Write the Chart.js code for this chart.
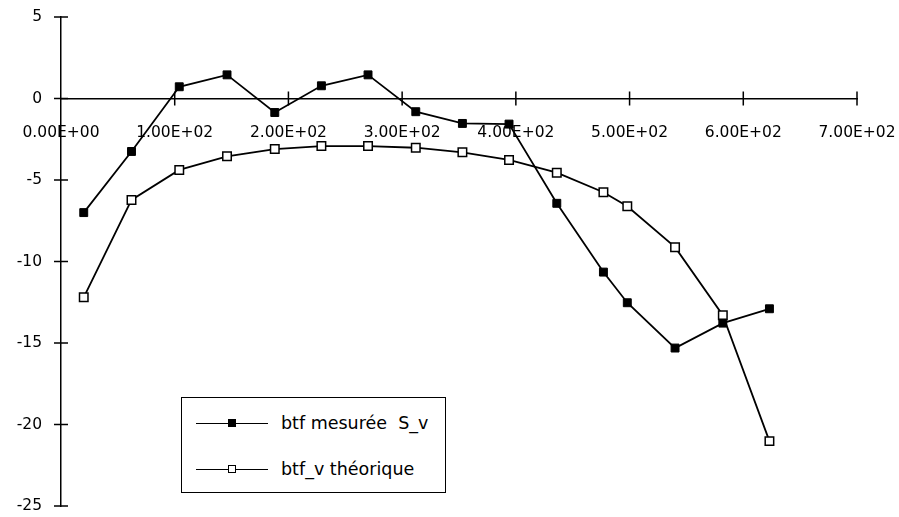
<!DOCTYPE html>
<html>
<head>
<meta charset="utf-8">
<script src="https://cdn.jsdelivr.net/npm/chart.js@4/dist/chart.umd.min.js"></script>
<style>
  html, body { margin: 0; padding: 0; background: #fff; }
  #wrap { position: relative; width: 899px; height: 517px; }
  #legend {
    position: absolute; left: 181px; top: 397px; width: 265px; height: 96px;
    border: 1.5px solid #000; box-sizing: border-box; background: #fff;
    font-family: "DejaVu Sans", sans-serif; font-size: 17.5px; color: #000;
  }
  .item { position: absolute; left: 14px; height: 20px; display: flex; align-items: center; white-space: pre; }
  .sym { position: relative; width: 72px; height: 20px; margin-right: 13px; }
  .sym .ln { position: absolute; left: 0; right: 0; top: 9.5px; border-top: 1px solid #000; }
  .sym .mk { position: absolute; left: 32px; top: 6px; width: 8px; height: 8px; box-sizing: border-box; border: 1.5px solid #000; }
</style>
</head>
<body>
<div id="wrap">
  <canvas id="c" width="899" height="517"></canvas>
  <div id="legend"></div>
</div>
<script>
const xValues = [20, 62, 104, 146, 188, 229, 270, 312, 353, 394, 436, 477, 498, 540, 582, 623];
const measured = [-7.0, -3.25, 0.72, 1.45, -0.86, 0.78, 1.45, -0.81, -1.53, -1.57, -6.43, -10.65, -12.53, -15.31, -13.78, -12.9];
const theoretical = [-12.2, -6.22, -4.38, -3.55, -3.1, -2.92, -2.92, -3.02, -3.3, -3.77, -4.55, -5.75, -6.61, -9.12, -13.3, -21.02];
const seriesNames = ['btf mesurée  S_v', 'btf_v théorique'];
const xTickLabels = ['0.00E+00', '1.00E+02', '2.00E+02', '3.00E+02', '4.00E+02', '5.00E+02', '6.00E+02', '7.00E+02'];
const yTickValues = [5, 0, -5, -10, -15, -20, -25];

const toPts = (ys) => xValues.map((x, i) => ({ x: x, y: ys[i] }));
const FONT = { family: '"DejaVu Sans", sans-serif', size: 15.5 };
const CLEAR = 'rgba(0,0,0,0)';

const crossTicks = {
  id: 'crossTicks',
  afterDraw(chart) {
    const { ctx, scales: { x, y } } = chart;
    const y0 = y.getPixelForValue(0);
    const x0 = x.getPixelForValue(0);
    ctx.save();
    ctx.strokeStyle = '#000';
    ctx.lineWidth = 1.5;
    ctx.beginPath();
    x.ticks.forEach(t => {
      if (t.value === 0) return;
      const px = x.getPixelForValue(t.value);
      ctx.moveTo(px, y0 - 7); ctx.lineTo(px, y0 + 7);
    });
    y.ticks.forEach(t => {
      const py = y.getPixelForValue(t.value);
      ctx.moveTo(x0 - 7, py); ctx.lineTo(x0 + 7, py);
    });
    ctx.stroke();
    ctx.restore();
  }
};

new Chart(document.getElementById('c'), {
  type: 'scatter',
  data: {
    datasets: [
      {
        label: seriesNames[0], data: toPts(measured), showLine: true,
        borderColor: '#000', borderWidth: 1.8, pointStyle: 'rect', pointRadius: 5.6,
        pointBackgroundColor: '#000', pointBorderColor: '#000', pointBorderWidth: 1
      },
      {
        label: seriesNames[1], data: toPts(theoretical), showLine: true,
        borderColor: '#000', borderWidth: 1.8, pointStyle: 'rect', pointRadius: 6,
        pointBackgroundColor: '#fff', pointBorderColor: '#000', pointBorderWidth: 1.5
      }
    ]
  },
  options: {
    responsive: false,
    animation: false,
    devicePixelRatio: 1,
    layout: { padding: { left: 0, right: 42, top: 17, bottom: 11 } },
    plugins: { legend: { display: false }, tooltip: { enabled: false } },
    scales: {
      x: {
        type: 'linear', min: 0, max: 700,
        position: { y: 0 },
        grid: { display: true, drawOnChartArea: false, drawTicks: true, tickLength: 25, color: CLEAR, tickColor: CLEAR },
        border: { display: true, color: '#000', width: 1.5 },
        ticks: {
          stepSize: 100, color: '#000', font: FONT, padding: 0, maxRotation: 0,
          callback: (v) => xTickLabels[Math.round(v / 100)]
        }
      },
      y: {
        type: 'linear', min: -25, max: 5,
        position: 'left',
        afterFit: (s) => { s.width = 61; },
        grid: { display: true, drawOnChartArea: false, drawTicks: true, tickLength: 19, color: CLEAR, tickColor: CLEAR },
        border: { display: true, color: '#000', width: 1.5 },
        ticks: { stepSize: 5, color: '#000', font: FONT, padding: 0 },
        afterBuildTicks: (s) => { s.ticks = yTickValues.map(v => ({ value: v })); }
      }
    }
  },
  plugins: [crossTicks]
});

const legend = document.getElementById('legend');
const fills = ['#000', '#fff'];
const tops = [15, 61];
seriesNames.forEach((name, i) => {
  const it = document.createElement('div');
  it.className = 'item';
  it.style.top = tops[i] + 'px';
  it.innerHTML = '<div class="sym"><div class="ln"></div><div class="mk" style="background:' + fills[i] + '"></div></div><span>' + name + '</span>';
  legend.appendChild(it);
});
</script>
</body>
</html>
